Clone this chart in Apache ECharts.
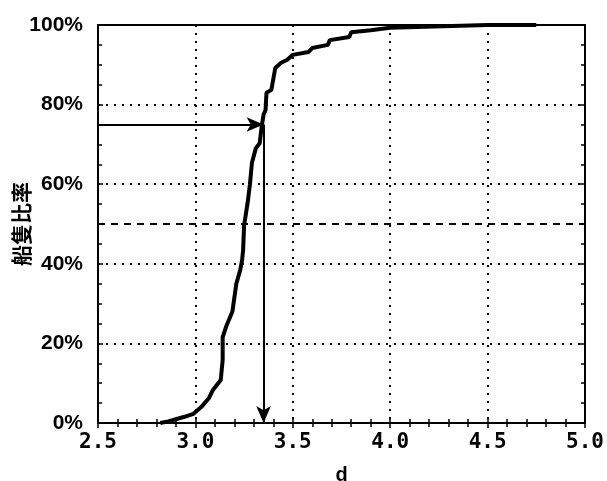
<!DOCTYPE html>
<html>
<head>
<meta charset="utf-8">
<script src="https://cdn.jsdelivr.net/npm/echarts@6/dist/echarts.min.js"></script>
<style>
  html, body { margin: 0; padding: 0; background: #fff; }
  #chart { width: 607px; height: 481px; }
</style>
</head>
<body>
<div id="chart"></div>
<script>
// Cumulative share of vessels versus d
const dValues = [2.82, 2.86, 2.94, 2.99, 3.03, 3.07, 3.09, 3.13, 3.14, 3.14, 3.16, 3.19, 3.20, 3.21,
  3.23, 3.24, 3.245, 3.25, 3.26, 3.27, 3.28, 3.29, 3.31, 3.33, 3.34, 3.35, 3.36, 3.365, 3.39,
  3.41, 3.44, 3.47, 3.50, 3.58, 3.60, 3.68, 3.69, 3.79, 3.80, 3.90, 4.00, 4.27, 4.50, 4.75];
const shareValues = [0, 0.4, 1.5, 2.3, 4, 6.3, 8.3, 10.8, 15.8, 21.6, 24.5, 28, 31.5, 35,
  38.4, 41, 43.5, 49.7, 52.8, 56, 60, 65.3, 69, 70.3, 74.4, 77.5, 78.6, 83, 83.7,
  89.2, 90.5, 91.2, 92.5, 93.2, 94.2, 95, 96.2, 97, 98.2, 98.7, 99.3, 99.7, 100, 100];

const xTickValues = [2.5, 3.0, 3.5, 4.0, 4.5, 5.0];
const xTickLabels = ['2.5', '3.0', '3.5', '4.0', '4.5', '5.0'];
const yTickValues = [0, 20, 40, 60, 80, 100];
const yTickLabels = ['0%', '20%', '40%', '60%', '80%', '100%'];

// Reading of the 75% level and the corresponding d
const readLevel = 75;
const readD = 3.35;
const medianLevel = 50;

const curve = dValues.map((d, i) => [d, shareValues[i]]);

function labelFor(values, labels) {
  return v => {
    const i = values.findIndex(t => Math.abs(t - v) < 1e-6);
    return i >= 0 ? labels[i] : '';
  };
}

const dotted = { color: '#000', width: 2, type: [2, 6] };

const chart = echarts.init(document.getElementById('chart'), null, { renderer: 'canvas' });
chart.setOption({
  animation: false,
  backgroundColor: '#fff',
  grid: { left: 98, right: 22, top: 25, bottom: 58, outerBoundsMode: 'none',
    show: true, borderColor: '#000', borderWidth: 2 },
  xAxis: [{
    type: 'value', min: 2.5, max: 5.0, interval: 0.5, position: 'bottom',
    name: 'd', nameLocation: 'middle', nameGap: 42, nameMoveOverlap: false,
    nameTextStyle: { fontFamily: 'Liberation Sans', fontWeight: 'bold', fontSize: 20, color: '#000' },
    axisLine: { show: true, lineStyle: { color: '#000', width: 2 } },
    axisTick: { show: true, inside: true, length: 5, lineStyle: { color: '#000', width: 1.5 } },
    minorTick: { show: true, splitNumber: 5, length: 4, lineStyle: { color: '#000', width: 1.5 } },
    axisLabel: { formatter: labelFor(xTickValues, xTickLabels), margin: 9, color: '#000',
      fontFamily: 'DejaVu Sans Mono', fontWeight: 'bold', fontSize: 21 },
    splitLine: { show: true, lineStyle: dotted }
  }, {
    type: 'value', min: 2.5, max: 5.0, interval: 0.5, position: 'top',
    axisLine: { show: true, lineStyle: { color: '#000', width: 2 } },
    axisTick: { show: true, inside: true, length: 5, lineStyle: { color: '#000', width: 1.5 } },
    minorTick: { show: true, splitNumber: 5, length: 4, lineStyle: { color: '#000', width: 1.5 } },
    axisLabel: { show: false }, splitLine: { show: false }
  }],
  yAxis: [{
    type: 'value', min: 0, max: 100, interval: 20, position: 'left',
    name: '船隻比率', nameLocation: 'middle', nameGap: 66, nameRotate: 90, nameMoveOverlap: false,
    nameTextStyle: { fontFamily: 'Noto Sans CJK TC', fontWeight: 'bold', fontSize: 21, color: '#000' },
    axisLine: { show: true, lineStyle: { color: '#000', width: 2 } },
    axisTick: { show: true, inside: true, length: 5, lineStyle: { color: '#000', width: 1.5 } },
    minorTick: { show: true, splitNumber: 4, length: 4, lineStyle: { color: '#000', width: 1.5 } },
    axisLabel: { formatter: labelFor(yTickValues, yTickLabels), margin: 15, color: '#000',
      fontFamily: 'Liberation Sans', fontWeight: 'bold', fontSize: 21 },
    splitLine: { show: true, lineStyle: dotted }
  }, {
    type: 'value', min: 0, max: 100, interval: 20, position: 'right',
    axisLine: { show: true, lineStyle: { color: '#000', width: 2 } },
    axisTick: { show: true, inside: true, length: 5, lineStyle: { color: '#000', width: 1.5 } },
    minorTick: { show: true, splitNumber: 4, length: 4, lineStyle: { color: '#000', width: 1.5 } },
    axisLabel: { show: false }, splitLine: { show: false }
  }],
  series: [{
    type: 'line',
    data: curve,
    showSymbol: false,
    lineStyle: { color: '#000', width: 4 },
    z: 3,
    markLine: {
      silent: true,
      animation: false,
      label: { show: false },
      data: [
        [{ coord: [2.5, medianLevel], symbol: 'none', lineStyle: { type: [7, 6], width: 2, color: '#000' } },
         { coord: [5.0, medianLevel], symbol: 'none' }]
      ]
    }
  }, {
    type: 'line',
    data: [],
    markLine: {
      silent: true,
      animation: false,
      symbol: ['none', 'arrow'],
      symbolSize: [11, 17],
      label: { show: false },
      lineStyle: { type: 'solid', color: '#000', width: 2 },
      data: [
        [{ coord: [2.5, readLevel] }, { coord: [readD, readLevel] }],
        [{ coord: [readD, readLevel] }, { coord: [readD, 0] }]
      ]
    }
  }]
});
</script>
</body>
</html>
